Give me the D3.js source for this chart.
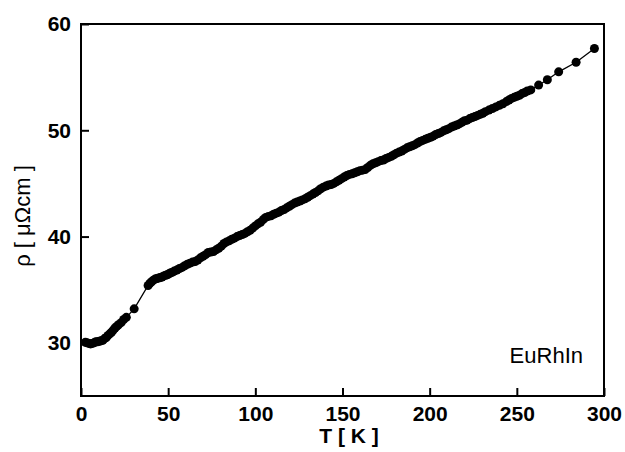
<!DOCTYPE html>
<html>
<head>
<meta charset="utf-8">
<script src="https://cdn.jsdelivr.net/npm/d3@7"></script>
<style>
  body { margin: 0; background: #fff; }
  svg { display: block; }
  text { font-family: "Liberation Sans", Arial, Helvetica, sans-serif; fill: #000; }
</style>
</head>
<body>
<svg id="chart" width="625" height="452"></svg>
<script>
// Temperature readings (K)
var temps = [
	2.5, 3.5, 4.5, 5.5, 6.5, 7.5, 8.5, 9.5, 10.5, 11.5, 12.5, 13.5, 14.5, 15.5, 16.5, 17.5, 18.5, 19.5, 20.5, 21.5,
	23, 24.5, 26, 30.5, 38.5, 39.5, 40.5, 41.5, 42.5, 43.5, 44.5, 45.5, 46.5, 47.5, 48.5, 49.5, 50.5, 51.5, 52.5, 53.5,
	55, 56.5, 58, 59.5, 61, 62.5, 64, 65.5, 67, 68.5, 70, 71.5, 73, 74.5, 76, 77.5, 79, 80.5, 82, 83.5,
	85, 86.5, 88, 89.5, 91, 92.5, 94, 95.5, 97, 98.5, 100, 101.5, 103, 104.5, 106, 107.5, 109, 110.5, 112, 113.5,
	115, 116.5, 118, 119.5, 121, 122.5, 124, 125.5, 127, 128.5, 130, 131.5, 133, 134.5, 136, 137.5, 139, 140.5, 142, 143.5,
	145, 146.5, 148, 149.5, 151, 152.5, 154, 155.5, 157, 158.5, 160, 161.5, 163, 164.5, 166, 167.5, 169, 170.5, 172, 173.5,
	175, 176.5, 178, 179.5, 181, 182.5, 184, 185.5, 187, 188.5, 190, 191.5, 193, 194.5, 196, 197.5, 199, 200.5, 202, 203.5,
	205, 206.5, 208, 209.5, 211, 212.5, 214, 215.5, 217, 218.5, 220, 221.5, 223, 224.5, 226, 227.5, 229, 230.5, 232, 234,
	236, 238, 240, 242, 244, 245.5, 247, 248.5, 250, 251.5, 253, 254.5, 256, 258, 262.5, 267.5, 274, 284, 294.5
];
// Resistivity (micro-ohm cm)
var rho = [
	30.05, 30.0, 29.95, 29.9, 29.95, 30.0, 30.1, 30.1, 30.15, 30.2, 30.25, 30.4, 30.5, 30.7, 30.85, 31.0, 31.2, 31.4, 31.55, 31.7,
	31.9, 32.2, 32.4, 33.2, 35.4, 35.6, 35.75, 35.9, 36.0, 36.05, 36.1, 36.15, 36.2, 36.3, 36.35, 36.4, 36.5, 36.6, 36.65, 36.75,
	36.85, 37.0, 37.1, 37.25, 37.4, 37.5, 37.6, 37.65, 37.8, 38.0, 38.15, 38.3, 38.5, 38.55, 38.6, 38.75, 38.9, 39.1, 39.35, 39.5,
	39.6, 39.75, 39.85, 40.0, 40.1, 40.2, 40.3, 40.45, 40.6, 40.8, 41.0, 41.2, 41.35, 41.6, 41.8, 41.9, 41.95, 42.1, 42.2, 42.3,
	42.45, 42.55, 42.7, 42.85, 43.0, 43.15, 43.25, 43.35, 43.45, 43.55, 43.7, 43.85, 44.0, 44.15, 44.3, 44.5, 44.65, 44.75, 44.85, 44.9,
	45.0, 45.15, 45.3, 45.45, 45.6, 45.75, 45.85, 45.9, 46.0, 46.1, 46.2, 46.25, 46.3, 46.5, 46.7, 46.85, 46.95, 47.05, 47.15, 47.2,
	47.35, 47.45, 47.55, 47.7, 47.85, 47.95, 48.05, 48.2, 48.35, 48.45, 48.55, 48.65, 48.8, 48.95, 49.05, 49.15, 49.25, 49.35, 49.45, 49.6,
	49.7, 49.8, 49.95, 50.05, 50.15, 50.3, 50.4, 50.5, 50.6, 50.75, 50.9, 50.95, 51.1, 51.2, 51.3, 51.4, 51.5, 51.6, 51.75, 51.9,
	52.05, 52.2, 52.35, 52.5, 52.7, 52.85, 53.0, 53.1, 53.2, 53.3, 53.45, 53.55, 53.7, 53.8, 54.25, 54.75, 55.5, 56.4, 57.7
];
var xTicks = [0, 50, 100, 150, 200, 250, 300];
var yTicks = [30, 40, 50, 60];

var svg = d3.select('#chart');
// plot box edges (note: "top" is reserved on window, so use m* names)
var mLeft = 81, mRight = 604, mTop = 24, mBottom = 396;

var x = d3.scaleLinear().domain([0, 300]).range([mLeft, mRight]);
var y = d3.scaleLinear().domain([25, 60]).range([mBottom, mTop]);

var points = temps.map(function(t, i){ return {t: t, r: rho[i]}; });

// Frame
svg.append('rect')
	.attr('x', mLeft).attr('y', mTop)
	.attr('width', mRight - mLeft).attr('height', mBottom - mTop)
	.attr('fill', 'none').attr('stroke', '#000').attr('stroke-width', 2);

// Axes with inward ticks
var xAxis = d3.axisBottom(x).tickValues(xTicks).tickSizeInner(-8).tickSizeOuter(0).tickPadding(10);
var gx = svg.append('g').attr('transform', 'translate(0,' + mBottom + ')').call(xAxis);
var yAxis = d3.axisLeft(y).tickValues(yTicks).tickSizeInner(-8).tickSizeOuter(0).tickPadding(10);
var gy = svg.append('g').attr('transform', 'translate(' + mLeft + ',0)').call(yAxis);

[gx, gy].forEach(function(g){
	g.select('.domain').remove();
	g.selectAll('line').attr('stroke', '#000').attr('stroke-width', 2);
	g.selectAll('text')
		.style('font-size', '21px')
		.style('font-weight', 'bold')
		.attr('fill', '#000');
});
gx.selectAll('text').attr('dy', '0.71em');

// Data line and dots
var line = d3.line()
	.x(function(d){ return x(d.t); })
	.y(function(d){ return y(d.r); });

svg.append('path')
	.datum(points)
	.attr('d', line)
	.attr('fill', 'none')
	.attr('stroke', '#000')
	.attr('stroke-width', 1.3);

svg.append('g').selectAll('circle')
	.data(points)
	.enter().append('circle')
	.attr('cx', function(d){ return x(d.t); })
	.attr('cy', function(d){ return y(d.r); })
	.attr('r', 4.5)
	.attr('fill', '#000');

// Labels
svg.append('text')
	.attr('x', 349).attr('y', 443)
	.attr('text-anchor', 'middle')
	.style('font-size', '21px')
	.style('font-weight', 'bold')
	.text('T [ K ]');

svg.append('text')
	.attr('transform', 'translate(30,216) rotate(-90)')
	.attr('text-anchor', 'middle')
	.style('font-size', '22px')
	.text('ρ [ μΩcm ]');

svg.append('text')
	.attr('x', 583).attr('y', 363)
	.attr('text-anchor', 'end')
	.style('font-size', '22px')
	.text('EuRhIn');
</script>
</body>
</html>
